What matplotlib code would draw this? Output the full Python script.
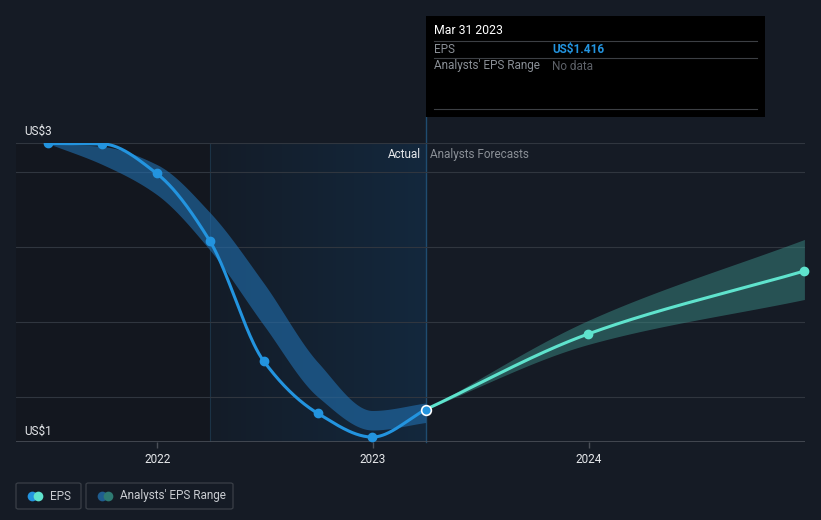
import numpy as np
import pandas as pd
import matplotlib
matplotlib.use('Agg')
import matplotlib.pyplot as plt
import matplotlib.dates as mdates
from matplotlib.patches import Rectangle, FancyBboxPatch
from matplotlib.lines import Line2D
from matplotlib.colors import LinearSegmentedColormap

plt.rcParams['font.family'] = ['Roboto', 'DejaVu Sans']

# --- data ---
actual_dates = ['2021-06-30', '2021-09-30', '2021-12-31', '2022-03-31',
                '2022-06-30', '2022-09-30', '2022-12-31', '2023-03-31']
eps_actual = [3.19, 3.187, 2.99, 2.54, 1.74, 1.39, 1.233, 1.416]
past_range_high = [3.19, 3.17, 3.05, 2.73, 2.26, 1.73, 1.41, 1.46]
past_range_low = [3.19, 3.05, 2.85, 2.48, 1.98, 1.50, 1.28, 1.33]

forecast_dates = ['2023-03-31', '2023-12-31', '2024-12-31']
eps_forecast = [1.416, 1.92, 2.34]
fc_range_high = [1.416, 2.01, 2.55]
fc_range_low = [1.416, 1.85, 2.15]

year_ticks = ['2022-01-01', '2023-01-01', '2024-01-01']
year_labels = ['2022', '2023', '2024']

BG = '#151b25'
BLUE = '#2394df'
TEAL = '#5fe3cd'


def monotone(x, y, n=300):
    # monotone cubic interpolation (like d3 curveMonotoneX)
    x = np.asarray(x, float)
    y = np.asarray(y, float)
    h = np.diff(x)
    d = np.diff(y) / h
    m = np.zeros_like(y)
    m[0], m[-1] = d[0], d[-1]
    for k in range(1, len(x) - 1):
        if d[k - 1] * d[k] <= 0:
            m[k] = 0
        else:
            w1 = 2 * h[k] + h[k - 1]
            w2 = h[k] + 2 * h[k - 1]
            m[k] = (w1 + w2) / (w1 / d[k - 1] + w2 / d[k])
    xs = np.linspace(x[0], x[-1], n)
    idx = np.clip(np.searchsorted(x, xs) - 1, 0, len(x) - 2)
    t = (xs - x[idx]) / h[idx]
    h00 = 2 * t**3 - 3 * t**2 + 1
    h10 = t**3 - 2 * t**2 + t
    h01 = -2 * t**3 + 3 * t**2
    h11 = t**3 - t**2
    ys = h00 * y[idx] + h10 * h[idx] * m[idx] + h01 * y[idx + 1] + h11 * h[idx] * m[idx + 1]
    return xs, ys


xa = mdates.date2num(pd.to_datetime(actual_dates))
xf = mdates.date2num(pd.to_datetime(forecast_dates))

fig = plt.figure(figsize=(8.21, 5.2), dpi=100, facecolor=BG)
ax = fig.add_axes([16 / 821, 78 / 520, 789 / 821, 299 / 520])
ax.set_facecolor(BG)

x_left = mdates.date2num(pd.Timestamp('2021-05-07'))
x_right = mdates.date2num(pd.Timestamp('2025-01-01'))
ymin, ymax = 1.2, 3.193
ax.set_xlim(x_left, x_right)
ax.set_ylim(ymin, ymax)

# background regions
ax.axvspan(x_left, xa[3], color='#13171f', zorder=0)
grad = LinearSegmentedColormap.from_list('g', ['#141c28', '#13283d'])
ax.imshow(np.linspace(0, 1, 256)[None, :], cmap=grad, aspect='auto',
          extent=[xa[3], xa[-1], ymin, ymax], zorder=0)
ax.set_xlim(x_left, x_right)
ax.set_ylim(ymin, ymax)
ax.axvline(xa[3], color='#1b3346', lw=0.8, zorder=1)
ax.plot([xa[-1], xa[-1]], [ymin, ymax + 0.17], color='#1f4c70', lw=1, zorder=1, clip_on=False)

# grid
for g in [1.5, 2.0, 2.5, 3.0, ymax]:
    ax.axhline(g, color='#30363f', lw=0.8, zorder=1)
ax.axhline(ymin, color='#4a4f58', lw=1.2, zorder=2)

# analyst ranges
bx, bhi = monotone(xa, past_range_high)
_, blo = monotone(xa, past_range_low)
ax.fill_between(bx, blo, bhi, color='#2270b0', alpha=0.6, lw=0, zorder=2)

fx, fhi = monotone(xf, fc_range_high)
_, flo = monotone(xf, fc_range_low)
ax.fill_between(fx, flo, fhi, color='#3a8a84', alpha=0.5, lw=0, zorder=2)

# EPS lines
lx, ly = monotone(xa, eps_actual)
ax.plot(lx, ly, color=BLUE, lw=2.2, zorder=3, solid_capstyle='round')
ax.plot(xa[:-1], eps_actual[:-1], 'o', color=BLUE, ms=6, zorder=4)

gx, gy = monotone(xf, eps_forecast)
ax.plot(gx, gy, color=TEAL, lw=2.2, zorder=3)
ax.plot(xf[1:], eps_forecast[1:], 'o', color=TEAL, ms=6, zorder=4, clip_on=False)
ax.plot(xa[-1], eps_actual[-1], 'o', color=BLUE, mec='white', mew=1.2, ms=7, zorder=5)

# axes styling
for s in ax.spines.values():
    s.set_visible(False)
ax.set_yticks([])
ax.set_xticks(mdates.date2num(pd.to_datetime(year_ticks)))
ax.set_xticklabels(year_labels)
ax.tick_params(axis='x', colors='#4a4f58', length=4, width=1, labelcolor='#e6e8eb',
               labelsize=8.5, pad=4)

# texts
ax.text(0.011, ymax + 0.035, 'US$3', color='#e6e8eb', fontsize=8.5, va='bottom', transform=ax.get_yaxis_transform())
ax.text(0.011, ymin + 0.03, 'US$1', color='#e6e8eb', fontsize=8.5, va='bottom', transform=ax.get_yaxis_transform())
ax.text(xa[-1] - 8, 3.117, 'Actual', color='#e6e8eb', fontsize=8.5, ha='right', va='center', zorder=6)
ax.text(xa[-1] + 8, 3.117, 'Analysts Forecasts', color='#8a8f96', fontsize=8.5, ha='left', va='center', zorder=6)

# tooltip box
W, H = 821, 520
fig.patches.append(Rectangle((426 / W, 1 - 117 / H), 339 / W, 101 / H, transform=fig.transFigure,
                             facecolor='#000000', edgecolor='none', zorder=10))
for yy in [41, 58, 109]:
    fig.add_artist(Line2D([434 / W, 757 / W], [1 - yy / H, 1 - yy / H], color='#3c3f44', lw=0.8, zorder=11))
fig.text(434 / W, 1 - 31 / H, 'Mar 31 2023', color='white', fontsize=8.8, va='center', zorder=12)
fig.text(434 / W, 1 - 49.5 / H, 'EPS', color='#8a8f96', fontsize=8.5, va='center', zorder=12)
fig.text(552 / W, 1 - 49.5 / H, 'US$1.416', color=BLUE, fontsize=8.5, fontweight='bold', va='center', zorder=12)
fig.text(434 / W, 1 - 66 / H, "Analysts' EPS Range", color='#8a8f96', fontsize=8.5, va='center', zorder=12)
fig.text(552 / W, 1 - 66 / H, 'No data', color='#5d6168', fontsize=8.5, va='center', zorder=12)

# legend boxes
def legend_box(x0, x1, label, c1, c2):
    fig.patches.append(FancyBboxPatch((x0 / W, 1 - 509 / H), (x1 - x0) / W, 26 / H,
                                      boxstyle='round,pad=0,rounding_size=0.003',
                                      transform=fig.transFigure, facecolor='none',
                                      edgecolor='#3a3f47', lw=0.9))
    fig.add_artist(Line2D([(x0 + 16) / W], [1 - 496 / H], marker='o', ms=7, color=c1, mew=0))
    fig.add_artist(Line2D([(x0 + 22) / W], [1 - 496 / H], marker='o', ms=7, color=c2, mew=0))
    fig.text((x0 + 34) / W, 1 - 496 / H, label, color='#c9ccd1', fontsize=8.5, va='center')


legend_box(16, 81, 'EPS', BLUE, TEAL)
legend_box(86, 233, "Analysts' EPS Range", '#1f5d8f', '#2e7a72')

fig.savefig('out.png', dpi=100, facecolor=BG)
